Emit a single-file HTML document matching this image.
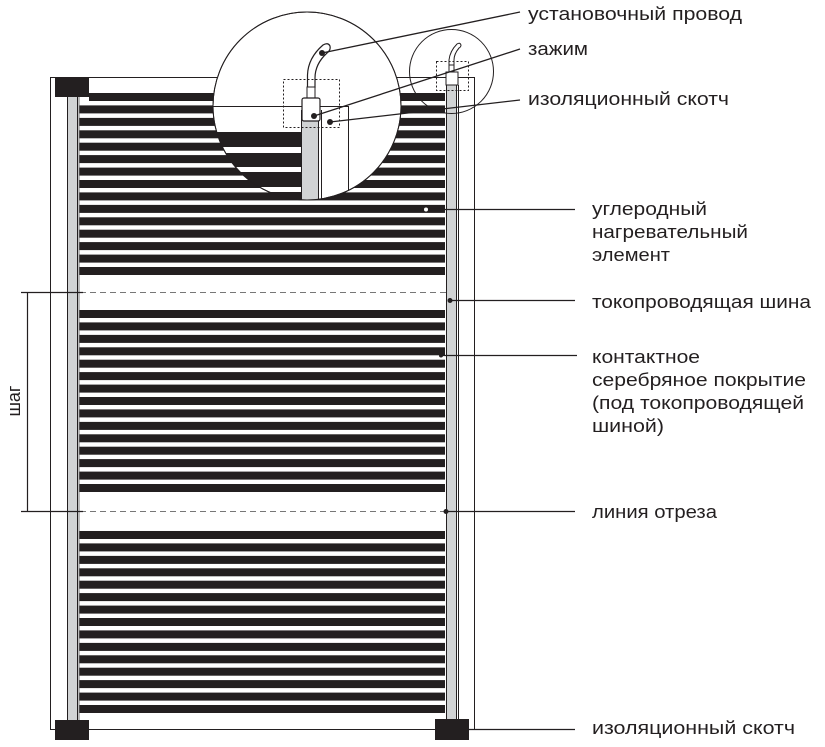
<!DOCTYPE html>
<html><head><meta charset="utf-8"><style>
html,body{margin:0;padding:0;background:#fff;}
svg{display:block;}
text{font-family:"Liberation Sans",sans-serif;font-size:18px;fill:#231f20;}
</style></head><body>
<svg width="825" height="747" viewBox="0 0 825 747" xmlns="http://www.w3.org/2000/svg">
<defs>
<clipPath id="bc"><circle cx="307" cy="106" r="94"/></clipPath>
</defs>
<!-- outer rect -->
<rect x="50.5" y="77.5" width="424" height="652" fill="none" stroke="#231f20" stroke-width="1"/>
<!-- stripes -->
<g fill="#231f20">
<rect x="89" y="93" width="356" height="8"/>
<rect x="79" y="105.4" width="366" height="8"/><rect x="79" y="117.9" width="366" height="8"/><rect x="79" y="130.3" width="366" height="8"/><rect x="79" y="142.7" width="366" height="8"/><rect x="79" y="155.1" width="366" height="8"/><rect x="79" y="167.6" width="366" height="8"/><rect x="79" y="180" width="366" height="8"/><rect x="79" y="192.4" width="366" height="8"/><rect x="79" y="204.9" width="366" height="8"/><rect x="79" y="217.3" width="366" height="8"/><rect x="79" y="229.7" width="366" height="8"/><rect x="79" y="242.1" width="366" height="8"/><rect x="79" y="254.6" width="366" height="8"/><rect x="79" y="267" width="366" height="8"/>
</g>
<g fill="#231f20">
<rect x="79" y="310" width="366" height="8"/><rect x="79" y="322.4" width="366" height="8"/><rect x="79" y="334.9" width="366" height="8"/><rect x="79" y="347.3" width="366" height="8"/><rect x="79" y="359.7" width="366" height="8"/><rect x="79" y="372.1" width="366" height="8"/><rect x="79" y="384.6" width="366" height="8"/><rect x="79" y="397" width="366" height="8"/><rect x="79" y="409.4" width="366" height="8"/><rect x="79" y="421.9" width="366" height="8"/><rect x="79" y="434.3" width="366" height="8"/><rect x="79" y="446.7" width="366" height="8"/><rect x="79" y="459.1" width="366" height="8"/><rect x="79" y="471.6" width="366" height="8"/><rect x="79" y="484" width="366" height="8"/>
</g>
<g fill="#231f20">
<rect x="79" y="531" width="366" height="8"/><rect x="79" y="543.4" width="366" height="8"/><rect x="79" y="555.9" width="366" height="8"/><rect x="79" y="568.3" width="366" height="8"/><rect x="79" y="580.7" width="366" height="8"/><rect x="79" y="593.1" width="366" height="8"/><rect x="79" y="605.6" width="366" height="8"/><rect x="79" y="618" width="366" height="8"/><rect x="79" y="630.4" width="366" height="8"/><rect x="79" y="642.9" width="366" height="8"/><rect x="79" y="655.3" width="366" height="8"/><rect x="79" y="667.7" width="366" height="8"/><rect x="79" y="680.1" width="366" height="8"/><rect x="79" y="692.6" width="366" height="8"/><rect x="79" y="705" width="366" height="8"/>
</g>
<!-- buses -->
<rect x="68" y="97" width="9" height="623" fill="#d1d3d4"/>
<line x1="67.5" y1="97" x2="67.5" y2="720" stroke="#231f20"/>
<line x1="77.5" y1="97" x2="77.5" y2="720" stroke="#231f20"/>
<line x1="79" y1="97" x2="79" y2="720" stroke="#777"/>
<rect x="447" y="85" width="9" height="635" fill="#d1d3d4"/>
<line x1="446.5" y1="85" x2="446.5" y2="720" stroke="#231f20"/>
<line x1="456.5" y1="85" x2="456.5" y2="720" stroke="#231f20"/>
<line x1="458.5" y1="85" x2="458.5" y2="720" stroke="#231f20"/>
<!-- blocks -->
<rect x="55" y="77" width="34" height="20" fill="#231f20"/>
<rect x="55" y="720" width="34" height="20" fill="#231f20"/>
<rect x="435" y="719" width="34" height="21" fill="#231f20"/>
<!-- dashed cut lines -->
<line x1="80" y1="292.5" x2="446" y2="292.5" stroke="#777" stroke-dasharray="6,4"/>
<line x1="80" y1="511.5" x2="446" y2="511.5" stroke="#777" stroke-dasharray="6,4"/>
<!-- step dimension -->
<line x1="27.5" y1="292" x2="27.5" y2="511" stroke="#231f20" stroke-width="1.2"/>
<line x1="21" y1="292.5" x2="83" y2="292.5" stroke="#231f20" stroke-width="1.2"/>
<line x1="21" y1="511.5" x2="83" y2="511.5" stroke="#231f20" stroke-width="1.2"/>
<text transform="translate(20,401) rotate(-90)" text-anchor="middle">шаг</text>
<!-- big magnifier -->
<circle cx="307" cy="106" r="94" fill="#fff" stroke="#231f20" stroke-width="1"/>
<g clip-path="url(#bc)">
<line x1="200" y1="106.5" x2="302" y2="106.5" stroke="#231f20"/>
<line x1="320" y1="106.5" x2="348" y2="106.5" stroke="#231f20"/>
<line x1="348.5" y1="106" x2="348.5" y2="210" stroke="#231f20"/>
<g fill="#231f20">
<rect x="200" y="132" width="101" height="15"/>
<rect x="200" y="153" width="101" height="14"/>
<rect x="200" y="172" width="101" height="15"/>
<rect x="200" y="192" width="101" height="15"/>
</g>
<rect x="302" y="115" width="16" height="95" fill="#d1d3d4"/>
<line x1="301.5" y1="110" x2="301.5" y2="210" stroke="#231f20"/>
<line x1="318.5" y1="110" x2="318.5" y2="210" stroke="#231f20"/>
<line x1="321.5" y1="110" x2="321.5" y2="210" stroke="#231f20"/>
</g>
<circle cx="307" cy="106" r="94" fill="none" stroke="#231f20" stroke-width="1"/>
<!-- wire -->
<path d="M307.5 88 L307.5 75 Q308 58 323 45 Q328 42 330 46 Q331 50 327 53 Q315 64 315 78 L315 88" fill="#fff" stroke="#231f20" stroke-width="1.2"/>
<rect x="307" y="87" width="8" height="11" fill="#fff" stroke="#231f20"/>
<rect x="302" y="98" width="18" height="23" rx="2" fill="#fff" stroke="#231f20" stroke-width="1.2"/>
<rect x="283.5" y="79.5" width="56" height="48" fill="none" stroke="#231f20" stroke-dasharray="2,2"/>
<!-- small magnifier -->
<circle cx="451.5" cy="71.5" r="42" fill="none" stroke="#231f20" stroke-width="1"/>
<path d="M449 66 L449 60 Q450 51 457 44 Q460 42 461 45 Q461 47 459 48 Q454 54 454 60 L454 66" fill="#fff" stroke="#231f20"/>
<rect x="449" y="65" width="5" height="7" fill="#fff" stroke="#231f20"/>
<rect x="446" y="72" width="12" height="13" fill="#fff" stroke="#231f20"/>
<rect x="436.5" y="61.5" width="32" height="29" fill="none" stroke="#231f20" stroke-dasharray="2,2"/>
<!-- leaders -->
<g stroke="#231f20" stroke-width="1.3" fill="none">
<line x1="322" y1="53" x2="520" y2="12"/>
<line x1="314" y1="116" x2="520" y2="49"/>
<line x1="330" y1="122" x2="520" y2="100"/>
<line x1="426" y1="209.5" x2="575" y2="209.5"/>
<line x1="450" y1="300.5" x2="575" y2="300.5"/>
<line x1="441" y1="355.5" x2="577" y2="355.5"/>
<line x1="446" y1="511.5" x2="575" y2="511.5"/>
<line x1="469" y1="729.5" x2="575" y2="729.5"/>
</g>
<g fill="#231f20">
<circle cx="322" cy="53" r="3"/><circle cx="314" cy="116" r="3"/><circle cx="330" cy="122" r="3"/>
<circle cx="450" cy="300.5" r="2.5"/><circle cx="441" cy="355.5" r="2"/><circle cx="446" cy="511.5" r="2.5"/>
</g>
<circle cx="426" cy="209.5" r="2" fill="#fff"/>
<!-- labels -->
<text x="528" y="20" textLength="214" lengthAdjust="spacingAndGlyphs">установочный провод</text>
<text x="528" y="55" textLength="60" lengthAdjust="spacingAndGlyphs">зажим</text>
<text x="528" y="105" textLength="201" lengthAdjust="spacingAndGlyphs">изоляционный скотч</text>
<text x="592" y="215" textLength="115" lengthAdjust="spacingAndGlyphs">углеродный</text>
<text x="592" y="238" textLength="156" lengthAdjust="spacingAndGlyphs">нагревательный</text>
<text x="592" y="261" textLength="78" lengthAdjust="spacingAndGlyphs">элемент</text>
<text x="592" y="308" textLength="219" lengthAdjust="spacingAndGlyphs">токопроводящая шина</text>
<text x="592" y="363" textLength="108" lengthAdjust="spacingAndGlyphs">контактное</text>
<text x="592" y="386" textLength="214" lengthAdjust="spacingAndGlyphs">серебряное покрытие</text>
<text x="592" y="409" textLength="212" lengthAdjust="spacingAndGlyphs">(под токопроводящей</text>
<text x="592" y="432" textLength="72" lengthAdjust="spacingAndGlyphs">шиной)</text>
<text x="592" y="518" textLength="125" lengthAdjust="spacingAndGlyphs">линия отреза</text>
<text x="592" y="734" textLength="203" lengthAdjust="spacingAndGlyphs">изоляционный скотч</text>
</svg>
</body></html>
